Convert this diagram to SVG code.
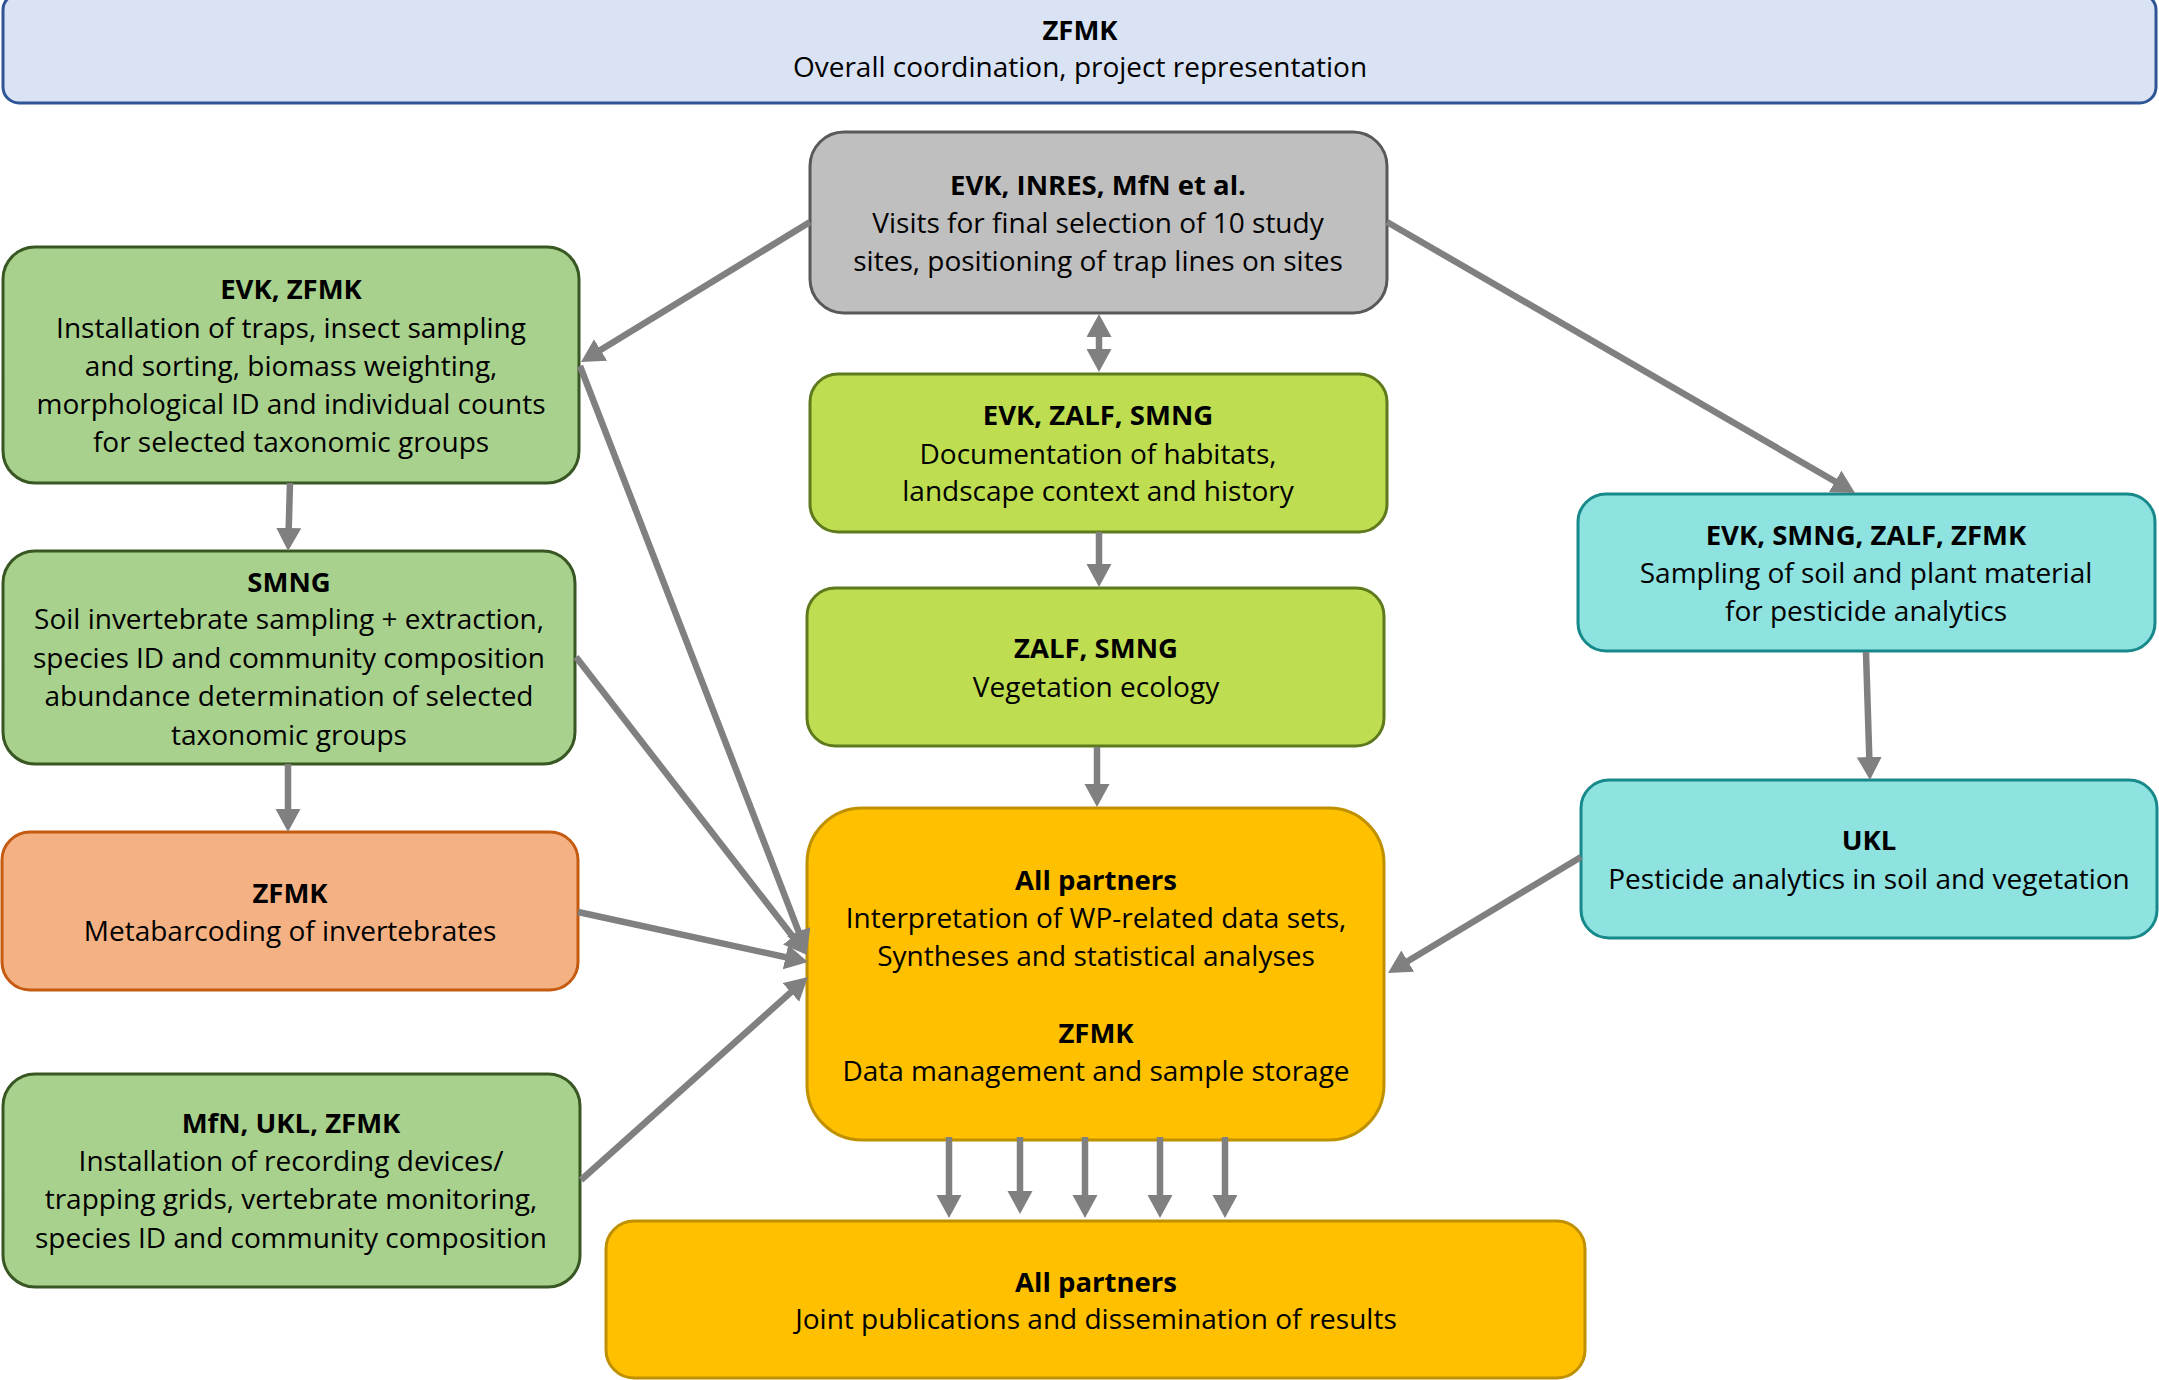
<svg xmlns="http://www.w3.org/2000/svg" width="2159" height="1380" viewBox="0 0 2159 1380">
<style>
text{font-family:"Open Sans","Liberation Sans",Arial,sans-serif;font-size:28px;fill:#000;text-anchor:middle}
.b{font-weight:bold;font-size:27.5px}
.box{stroke-width:3}
.top{fill:#DAE3F3;stroke:#2F5597}
.gray{fill:#BFBFBF;stroke:#595959}
.green{fill:#A9D18E;stroke:#385723}
.lime{fill:#BEDD50;stroke:#5E7A1C}
.orange{fill:#F4B183;stroke:#C55A11}
.yellow{fill:#FFC000;stroke:#BF9000}
.cyan{fill:#8EE2E0;stroke:#17898A}
.c{fill:none;stroke:#808080;stroke-width:6.5;marker-end:url(#ah)}
</style>
<defs>
<marker id="ah" markerUnits="userSpaceOnUse" markerWidth="26" markerHeight="26" refX="4" refY="12.5" orient="auto-start-reverse">
<path d="M0,0 L23,12.5 L0,25 z" fill="#808080"/>
</marker>
</defs>
<rect width="2159" height="1380" fill="#fff"/>

<g id="n-top"><rect class="box top" x="3" y="-6" width="2153" height="109" rx="16" stroke-width="3.5"/>
<text class="b" x="1080" y="40">ZFMK</text>
<text x="1080" y="77">Overall coordination, project representation</text></g>

<g id="n-gray"><rect class="box gray" x="810" y="132" width="577" height="181" rx="34"/>
<text class="b" x="1098" y="195">EVK, INRES, MfN et al.</text>
<text x="1098" y="233">Visits for final selection of 10 study</text>
<text x="1098" y="271">sites, positioning of trap lines on sites</text></g>

<g id="n-evkzfmk"><rect class="box green" x="3" y="247" width="576" height="236" rx="32"/>
<text class="b" x="291" y="299">EVK, ZFMK</text>
<text x="291" y="338">Installation of traps, insect sampling</text>
<text x="291" y="376">and sorting, biomass weighting,</text>
<text x="291" y="414">morphological ID and individual counts</text>
<text x="291" y="452">for selected taxonomic groups</text></g>

<g id="n-doc"><rect class="box lime" x="810" y="374" width="577" height="158" rx="28"/>
<text class="b" x="1098" y="425">EVK, ZALF, SMNG</text>
<text x="1098" y="464">Documentation of habitats,</text>
<text x="1098" y="501">landscape context and history</text></g>

<g id="n-veg"><rect class="box lime" x="807" y="588" width="577" height="158" rx="28"/>
<text class="b" x="1096" y="658">ZALF, SMNG</text>
<text x="1096" y="697">Vegetation ecology</text></g>

<g id="n-smng"><rect class="box green" x="3" y="551" width="572" height="213" rx="32"/>
<text class="b" x="289" y="592">SMNG</text>
<text x="289" y="629">Soil invertebrate sampling + extraction,</text>
<text x="289" y="668">species ID and community composition</text>
<text x="289" y="706">abundance determination of selected</text>
<text x="289" y="745">taxonomic groups</text></g>

<g id="n-meta"><rect class="box orange" x="2" y="832" width="576" height="158" rx="28"/>
<text class="b" x="290" y="903">ZFMK</text>
<text x="290" y="941">Metabarcoding of invertebrates</text></g>

<g id="n-mfn"><rect class="box green" x="3" y="1074" width="577" height="213" rx="32"/>
<text class="b" x="291" y="1133">MfN, UKL, ZFMK</text>
<text x="291" y="1171">Installation of recording devices/</text>
<text x="291" y="1209">trapping grids, vertebrate monitoring,</text>
<text x="291" y="1248">species ID and community composition</text></g>

<g id="n-all"><rect class="box yellow" x="807" y="808" width="577" height="332" rx="55"/>
<text class="b" x="1096" y="890">All partners</text>
<text x="1096" y="928">Interpretation of WP-related data sets,</text>
<text x="1096" y="966">Syntheses and statistical analyses</text>
<text class="b" x="1096" y="1043">ZFMK</text>
<text x="1096" y="1081">Data management and sample storage</text></g>

<g id="n-pub"><rect class="box yellow" x="606" y="1221" width="979" height="157" rx="28"/>
<text class="b" x="1096" y="1292">All partners</text>
<text x="1096" y="1329">Joint publications and dissemination of results</text></g>

<g id="n-samp"><rect class="box cyan" x="1578" y="494" width="577" height="157" rx="28"/>
<text class="b" x="1866" y="545">EVK, SMNG, ZALF, ZFMK</text>
<text x="1866" y="583">Sampling of soil and plant material</text>
<text x="1866" y="621">for pesticide analytics</text></g>

<g id="n-ukl"><rect class="box cyan" x="1581" y="780" width="576" height="158" rx="28"/>
<text class="b" x="1869" y="850">UKL</text>
<text x="1869" y="889">Pesticide analytics in soil and vegetation</text></g>

<g id="connectors">
<path class="c" d="M810,222 L597.2,352.1"/>
<path class="c" d="M290,483 L288.6,532"/>
<path class="c" d="M288,764 L288,813"/>
<path class="c" d="M1099,333 L1099,353" style="marker-start:url(#ah)"/>
<path class="c" d="M1099,532 L1099,568"/>
<path class="c" d="M1097,747 L1097,788"/>
<path class="c" d="M580,366 L800.1,935.3"/>
<path class="c" d="M576,657 L795.4,940"/>
<path class="c" d="M578,912 L789.4,958"/>
<path class="c" d="M581,1180 L793.8,989.7"/>
<path class="c" d="M1387,222 L1838.6,483.5"/>
<path class="c" d="M1866,652 L1869.4,761"/>
<path class="c" d="M1581,857 L1404.3,963.2"/>
<path class="c" d="M949,1137 L949,1199"/>
<path class="c" d="M1020,1137 L1020,1195"/>
<path class="c" d="M1085,1137 L1085,1199"/>
<path class="c" d="M1160,1137 L1160,1199"/>
<path class="c" d="M1225,1137 L1225,1199"/>
</g>
</svg>
